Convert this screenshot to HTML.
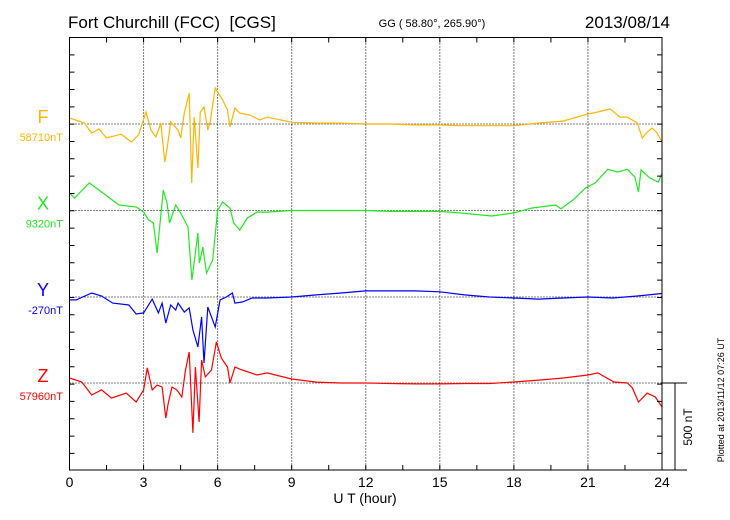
<!DOCTYPE html>
<html><head><meta charset="utf-8"><style>
body{margin:0;background:#fff;}
svg{display:block;font-family:"Liberation Sans",sans-serif;}
</style></head><body>
<svg id="chart" width="730" height="520" viewBox="0 0 730 520">
<text x="68" y="28" font-size="17">Fort Churchill (FCC)&#160; [CGS]</text>
<text x="432" y="27" font-size="11" text-anchor="middle">GG ( 58.80°, 265.90°)</text>
<text x="670" y="28" font-size="17" text-anchor="end">2013/08/14</text>
<text x="365" y="503" font-size="14" text-anchor="middle">U T (hour)</text>
<text transform="translate(692,427) rotate(-90)" font-size="12" text-anchor="middle">500 nT</text>
<text transform="translate(724,400) rotate(-90)" font-size="9" text-anchor="middle">Plotted at 2013/11/12 07:26 UT</text>
<g id="grid"></g><g id="series"></g><g id="axes"></g>
</svg>
<script>
const hourTicks=[0,3,6,9,12,15,18,21,24];
const compNames=["F","X","Y","Z"];
const compBaselines=["58710nT","9320nT","-270nT","57960nT"];
const compColors=["#ffb400","#22e822","#0000ff","#ff0000"];
const fT=[0,0.6,0.9,1.2,1.5,2.1,2.5,2.8,3.1,3.3,3.5,3.7,3.86,3.96,4.1,4.4,4.5,4.65,4.85,4.95,5.05,5.2,5.3,5.45,5.6,5.7,5.9,6.2,6.4,6.5,6.7,6.9,7.3,7.7,8,9,10,11,12,13,14,15,15.8,17,18,19,20,21,21.4,21.9,22.3,22.6,23,23.2,23.4,23.6,23.8,24];
const fV=[35,6,-52,-29,-81,-58,-104,-63,69,-35,-75,6,-219,-133,12,-35,-81,63,179,-340,40,-254,69,98,-35,12,208,139,81,-17,92,63,52,23,40,10,5,5,0,0,-5,-5,-10,-10,-10,6,17,58,69,87,40,40,6,-81,-46,-23,-52,-104];
const xT=[0,0.2,0.8,1.3,2,2.7,3,3.2,3.4,3.55,3.8,3.95,4.05,4.3,4.5,4.8,4.96,5.2,5.26,5.4,5.55,5.8,6,6.2,6.5,6.65,6.9,7.2,7.6,8,9,10,11,12,13,14,15,15.8,17.1,18,18.7,19.7,19.9,20.4,20.9,21.3,21.8,22.2,22.6,22.9,23.05,23.15,23.5,23.85,24];
const xV=[101,72,159,107,32,20,-9,-55,-72,-245,118,43,-72,32,-14,-95,-401,-130,-303,-211,-361,-286,0,49,14,-72,-113,-43,-9,-9,0,0,0,0,-5,-5,-5,-14,-32,-14,14,32,9,61,130,159,238,222,238,193,107,234,188,164,216];
const yT=[0,0.27,0.9,1.3,1.75,2.4,2.7,3,3.35,3.6,3.75,3.9,4.1,4.3,4.4,4.65,4.85,5,5.2,5.35,5.45,5.6,5.9,6.1,6.35,6.6,6.7,7,7.4,8,9,10,11,12,13,14,15,16,17,18,19,20,21,22,23,24];
const yV=[-17,-17,23,6,-35,-46,-98,-92,-12,-92,-35,-150,-46,-75,-35,-87,-63,-190,-288,-115,-381,-58,-173,-17,0,23,-35,-29,-6,-6,0,12,23,35,35,35,30,12,0,-6,-12,-6,0,-6,6,20];
const zT=[0,0.5,0.9,1.3,1.7,2.3,2.7,3,3.15,3.35,3.55,3.75,3.9,4,4.15,4.35,4.55,4.7,4.85,5,5.1,5.25,5.35,5.5,5.75,5.95,6.15,6.4,6.5,6.7,7,7.6,8,9,10,11,12,13,14,15,16,17,18,19,20,21,21.4,22.05,22.6,22.8,23.05,23.4,23.73,24];
const zV=[29,6,-69,-40,-87,-58,-110,-40,87,-40,-12,-23,-202,-115,-23,-40,-81,75,179,-288,92,-225,133,35,75,237,144,92,0,92,75,46,58,23,5,0,0,-3,-5,-5,-3,-3,6,17,29,46,58,6,0,-29,-110,-58,-81,-138];
const seriesT=[fT,xT,yT,zT], seriesV=[fV,xV,yV,zV];
const L=69.5,R=662,T=37.5,B=470,PX100=17.33;
const baseY=[124,210.5,297,383];
const xs=h=>L+(R-L)*h/24;
const ys=(i,v)=>baseY[i]-v*PX100/100;
const NS="http://www.w3.org/2000/svg";
function mk(tag,attrs,parent){const e=document.createElementNS(NS,tag);for(const k in attrs)e.setAttribute(k,attrs[k]);parent.appendChild(e);return e;}
const grid=document.getElementById('grid'),ser=document.getElementById('series'),ax=document.getElementById('axes');
hourTicks.forEach(h=>{if(h>0&&h<24){const l=mk('line',{x1:xs(h),x2:xs(h),y1:T,y2:B,stroke:'#000','stroke-width':1,'stroke-dasharray':'1,2'},grid);

}});
baseY.forEach((y,i)=>{const l=mk('line',{x1:L,x2:R,y1:y,y2:y,stroke:'#000','stroke-width':1,'stroke-dasharray':'1,2'},grid);

});
seriesT.forEach((ts,i)=>{const d=ts.map((t,j)=>(j?'L':'M')+xs(t).toFixed(1)+','+ys(i,seriesV[i][j]).toFixed(1)).join('');
const p=mk('path',{d:d,fill:'none',stroke:compColors[i],'stroke-width':1.2},ser);


const t1=mk('text',{x:43,y:baseY[i]-1,'font-size':18,fill:compColors[i],'text-anchor':'middle'},ax);t1.textContent=compNames[i];


const t2=mk('text',{x:63,y:baseY[i]+17,'font-size':11,fill:compColors[i],'text-anchor':'end'},ax);t2.textContent=compBaselines[i];

});
const fr=mk('rect',{x:L,y:T,width:R-L,height:B-T,fill:'none',stroke:'#000','stroke-width':1},ax);


let tk='';
for(let y=T;y<=B+0.5;y+=PX100){tk+=`M${L},${y}h5M${R},${y}h-5`;}
for(let h=0;h<=24;h+=1.5){tk+=`M${xs(h)},${T}v5M${xs(h)},${B}v-5`;}
const tp=mk('path',{d:tk,stroke:'#000','stroke-width':1,fill:'none'},ax);


hourTicks.forEach(h=>{const t=mk('text',{x:xs(h),y:487,'font-size':14,'text-anchor':'middle'},ax);t.textContent=h;

});
const sb=mk('path',{d:`M${R},${B}H687M${R},383H687M675,383V${B}`,stroke:'#000','stroke-width':1,fill:'none'},ax);


</script>
</body></html>
